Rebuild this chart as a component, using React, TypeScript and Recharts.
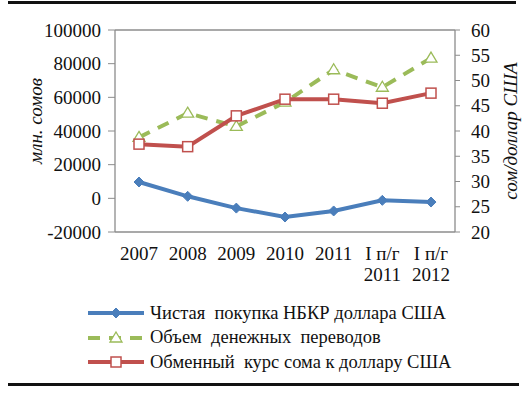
import { LineChart, Line, XAxis, YAxis, CartesianGrid } from 'recharts';

const categories = ['2007', '2008', '2009', '2010', '2011', 'I п/г\n2011', 'I п/г\n2012'];
const netPurchase = [9700, 1200, -5800, -11100, -7500, -1200, -2200];
const remittances = [36200, 50600, 42700, 57100, 76400, 66000, 83300];
const exchangeRate = [37.4, 36.9, 43.0, 46.3, 46.3, 45.5, 47.5];

const leftTicks = [-20000, 0, 20000, 40000, 60000, 80000, 100000];
const rightTicks = [20, 25, 30, 35, 40, 45, 50, 55, 60];

const seriesNames = [
  'Чистая  покупка НБКР доллара США',
  'Объем  денежных  переводов',
  'Обменный  курс сома к доллару США',
];

const BLUE = '#4a7ebb';
const GREEN = '#9bbb59';
const RED = '#c0504d';
const FONT = '"Liberation Serif", "Times New Roman", serif';

const data = categories.map((c, i) => ({
  cat: c,
  net: netPurchase[i],
  rem: remittances[i],
  rate: exchangeRate[i],
}));

const CategoryTick = ({ x, y, payload }: any) => {
  const lines = String(payload.value).split('\n');
  return (
    <text x={x} y={y + 20} textAnchor="middle" fontFamily={FONT} fontSize={19} fill="#111">
      {lines.map((l, i) => (
        <tspan key={i} x={x} dy={i === 0 ? 0 : 21}>{l}</tspan>
      ))}
    </text>
  );
};

const Diamond = ({ cx, cy }: any) => (
  <path d={`M${cx},${cy - 5} L${cx + 5},${cy} L${cx},${cy + 5} L${cx - 5},${cy} Z`} fill={BLUE} stroke={BLUE} strokeWidth={1} />
);

const Triangle = ({ cx, cy }: any) => (
  <path d={`M${cx},${cy - 6} L${cx + 6},${cy + 4} L${cx - 6},${cy + 4} Z`} fill="#fff" stroke={GREEN} strokeWidth={1.3} />
);

const Square = ({ cx, cy }: any) => (
  <rect x={cx - 5} y={cy - 5} width={10} height={10} fill="#fff" stroke={RED} strokeWidth={1.5} />
);

const LegendRow = ({ color, dash, marker, label }: any) => (
  <div style={{ display: 'flex', alignItems: 'center', height: 24.5 }}>
    <svg width={62} height={16} style={{ marginRight: 2 }}>
      <line x1={2} y1={8} x2={58} y2={8} stroke={color} strokeWidth={4} strokeDasharray={dash} />
      {marker === 'diamond' && <Diamond cx={30} cy={8} />}
      {marker === 'triangle' && <Triangle cx={30} cy={8} />}
      {marker === 'square' && <Square cx={30} cy={8} />}
    </svg>
    <span style={{ whiteSpace: 'pre' }}>{label}</span>
  </div>
);

const tickStyle = { fill: '#111', fontSize: 19, fontFamily: FONT };
const titleStyle = { fontStyle: 'italic', fontSize: 19, fontFamily: FONT, fill: '#111', textAnchor: 'middle' };

export default function App() {
  return (
    <div style={{ position: 'absolute', left: 0, top: 0, width: 528, height: 396, background: '#fff', fontFamily: FONT }}>
      <div style={{ position: 'absolute', left: 8, top: 1, width: 508, height: 3, background: '#111' }} />
      <LineChart width={528} height={396} data={data} margin={{ top: 30, right: 0, left: 0, bottom: 0 }}>
        <CartesianGrid vertical={false} stroke="#8c8c8c" strokeWidth={1.3} />
        <XAxis
          dataKey="cat"
          height={164}
          axisLine={false}
          tickLine={false}
          tick={<CategoryTick />}
          interval={0}
          padding={{ left: 24, right: 24 }}
        />
        <YAxis
          yAxisId="left"
          width={115}
          domain={[-20000, 100000]}
          ticks={leftTicks}
          interval={0}
          axisLine={{ stroke: '#8c8c8c', strokeWidth: 1.3 }}
          tickLine={{ stroke: '#8c8c8c' }}
          tickSize={7}
          tickMargin={7}
          tick={tickStyle}
          label={{ value: 'млн. сомов', angle: -90, position: 'insideLeft', offset: 35, dy: -10, style: titleStyle }}
        />
        <YAxis
          yAxisId="right"
          orientation="right"
          width={73}
          domain={[20, 60]}
          ticks={rightTicks}
          interval={0}
          axisLine={{ stroke: '#8c8c8c', strokeWidth: 1.3 }}
          tickLine={{ stroke: '#8c8c8c' }}
          tickSize={5}
          tickMargin={11}
          tick={tickStyle}
          label={{ value: 'сом/доллар США', angle: -90, position: 'insideRight', offset: 18, style: titleStyle }}
        />
        <Line yAxisId="left" dataKey="net" stroke={BLUE} strokeWidth={4} dot={<Diamond />} isAnimationActive={false} />
        <Line yAxisId="left" dataKey="rem" stroke={GREEN} strokeWidth={4} strokeDasharray="12 9" dot={<Triangle />} isAnimationActive={false} />
        <Line yAxisId="right" dataKey="rate" stroke={RED} strokeWidth={4} dot={<Square />} isAnimationActive={false} />
      </LineChart>
      <div style={{ position: 'absolute', left: 86, top: 301, fontSize: 18.5, color: '#111' }}>
        <LegendRow color={BLUE} marker="diamond" label={seriesNames[0]} />
        <LegendRow color={GREEN} dash="12 9" marker="triangle" label={seriesNames[1]} />
        <LegendRow color={RED} marker="square" label={seriesNames[2]} />
      </div>
      <div style={{ position: 'absolute', left: 8, top: 383, width: 511, height: 3, background: '#111' }} />
    </div>
  );
}
